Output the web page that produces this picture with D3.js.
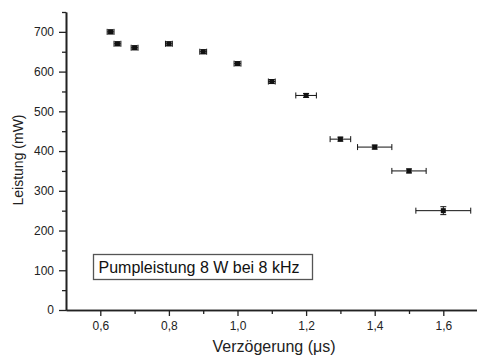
<!DOCTYPE html>
<html>
<head>
<meta charset="utf-8">
<script src="https://cdn.jsdelivr.net/npm/d3@7"></script>
<style>
  body { margin: 0; background: #fff; }
  svg { display: block; font-family: "Liberation Sans", Arial, sans-serif; }
</style>
</head>
<body>
<svg id="chart" width="477" height="358"></svg>
<script>
// Messwerte: Verzögerung (µs) und Leistung (mW)
const delay = [0.63, 0.65, 0.70, 0.80, 0.90, 1.00, 1.10, 1.20, 1.30, 1.40, 1.50, 1.60]
const power = [700, 670, 660, 670, 650, 620, 575, 540, 430, 410, 350, 250]
const delayErr = [0.01, 0.01, 0.01, 0.01, 0.01, 0.01, 0.01, 0.03, 0.03, 0.05, 0.05, 0.08]
const powerErr = [5, 5, 5, 5, 5, 5, 5, 5, 5, 5, 5, 10]
const xTicks = [0.6, 0.8, 1.0, 1.2, 1.4, 1.6]
const yTicks = [0, 100, 200, 300, 400, 500, 600, 700]
const label = "Pumpleistung 8 W bei 8 kHz"

const svg = d3.select("#chart")
const x = d3.scaleLinear().domain([0.5, 1.7]).range([66, 477.6])
const y = d3.scaleLinear().domain([0, 750]).range([310, 12])
const fmt = d => d3.format(".1f")(d).replace(".", ",")

// Achsen
const xAxis = svg.append("g").attr("transform", `translate(0,${y(0)})`)
    .call(d3.axisBottom(x).tickValues(xTicks).tickFormat(fmt).tickSize(6).tickSizeOuter(0).tickPadding(5))
const xMinor = svg.append("g").attr("transform", `translate(0,${y(0)})`)
    .call(d3.axisBottom(x).tickValues(d3.range(0.7, 1.7, 0.2)).tickFormat("").tickSize(4).tickSizeOuter(0))
const yAxis = svg.append("g").attr("transform", `translate(${x(0.5)},0)`)
    .call(d3.axisLeft(y).tickValues(yTicks).tickSize(7).tickSizeOuter(0).tickPadding(5))
const yMinor = svg.append("g").attr("transform", `translate(${x(0.5)},0)`)
    .call(d3.axisLeft(y).tickValues(d3.range(50, 800, 100)).tickFormat("").tickSize(4).tickSizeOuter(0))

;[xAxis, xMinor, yAxis, yMinor].forEach(g => {
    g.select(".domain").attr("stroke", "#222").attr("stroke-width", 1.6)
    g.selectAll(".tick line").attr("stroke", "#222").attr("stroke-width", 1.3)
    g.selectAll("text").attr("font-size", "12px").attr("fill", "#222")
        .attr("font-family", "Liberation Sans, Arial, sans-serif")
})

// Achsentitel
svg.append("text").text("Verzögerung (μs)")
    .attr("x", 274).attr("y", 352)
    .attr("text-anchor", "middle").attr("font-size", "16px").attr("fill", "#222")
svg.append("text").text("Leistung (mW)")
    .attr("transform", "translate(23,160) rotate(-90)")
    .attr("text-anchor", "middle").attr("font-size", "14px").attr("fill", "#222")

// Fehlerbalken
const pts = delay.map((d, i) => ({ x: d, y: power[i], ex: delayErr[i], ey: powerErr[i] }))
const err = svg.append("g").attr("stroke", "#111").attr("stroke-width", 1)
pts.forEach(p => {
    const cx = x(p.x), cy = y(p.y)
    const x0 = x(p.x - p.ex), x1 = x(p.x + p.ex)
    const y0 = y(p.y - p.ey), y1 = y(p.y + p.ey)
    err.append("line").attr("x1", x0).attr("x2", x1).attr("y1", cy).attr("y2", cy)
    err.append("line").attr("x1", x0).attr("x2", x0).attr("y1", cy - 3).attr("y2", cy + 3)
    err.append("line").attr("x1", x1).attr("x2", x1).attr("y1", cy - 3).attr("y2", cy + 3)
    err.append("line").attr("x1", cx).attr("x2", cx).attr("y1", y0).attr("y2", y1)
    err.append("line").attr("x1", cx - 3).attr("x2", cx + 3).attr("y1", y0).attr("y2", y0)
    err.append("line").attr("x1", cx - 3).attr("x2", cx + 3).attr("y1", y1).attr("y2", y1)
})

// Messpunkte
svg.append("g").selectAll("rect").data(pts).join("rect")
    .attr("x", d => x(d.x) - 2.5).attr("y", d => y(d.y) - 2.5)
    .attr("width", 5).attr("height", 5)
    .attr("fill", "#111")

// Beschriftungsbox
svg.append("rect")
    .attr("x", 93.5).attr("y", 254.5).attr("width", 219).attr("height", 25)
    .attr("fill", "none").attr("stroke", "#555").attr("stroke-width", 1.3)
svg.append("text").text(label)
    .attr("x", 98.5).attr("y", 273)
    .attr("font-size", "16px").attr("fill", "#111")
</script>
</body>
</html>
